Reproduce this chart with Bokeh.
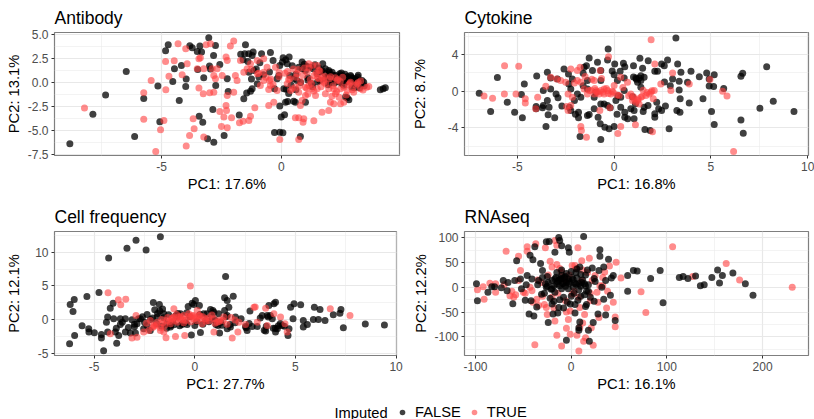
from bokeh.plotting import figure
from bokeh.layouts import column, row
from bokeh.models import FixedTicker, Range1d, Legend, LegendItem, Label
from bokeh.embed import file_html
from bokeh.resources import INLINE

FONT = "Liberation Sans"
BLACK = "#000000"
RED = "#FF4040"

# ---------- Antibody ----------
ab_false_x = [-8.82,-7.86,-7.33,-6.47,-6.12,-5.74,-5.15,-5.07,-4.83,-4.72,-4.53,-4.46,-4.26,-4.17,-3.99,-3.97,-3.82,-3.72,-3.51,-3.4,-3.33,-3.49,-3.24,-3.43,-3.28,-3.08,-2.82,-3.03,-3.0,-2.96,-2.75,-2.83,-2.86,-2.74,-2.57,-2.39,-2.26,-2.22,
  -1.5,-1.53,-1.36,-1.18,-1.6,-1.4,-1.22,-0.83,-0.46,-0.35,0.07,0.18,0.32,0.04,0.24,-0.07,-0.11,-0.18,0.35,0.51,0.65,0.86,0.86,1.0,0.72,1.32,1.72,1.83,1.97,2.11,1.69,2.43,2.6,2.74,2.88,3.01,3.18,3.36,3.43,3.26,2.94,2.74,2.53,2.18,1.97,1.83,4.12,4.24,4.33,2.67,2.81,2.74,
  -1.29,-1.57,-1.22,-1.01,-0.94,-1.15,-1.36,-0.29,0.1,0.17,0.26,0.51,0.58,1.0,-0.07,-0.01,0.13,-0.07,-0.29,0.06,0.79,-1.76,
  1.1,1.25,1.5,1.6,2.0,2.25,2.35,2.5,2.65,2.95,3.1,0.45,0.6,1.2,1.9,3.2,3.05,
  0.95,1.05,1.4,1.55,1.65,1.8,2.0,2.15,2.3,2.45,2.55,2.7,2.8,2.9,3.0,3.1,3.25,3.3,3.45,2.2,2.4,2.6,2.75,1.95,2.05,0.6,0.8,1.1,1.3,0.3,0.2,-0.5,-0.75,-1.05,-1.25,-1.45,-1.7,-0.9,0.4,1.5]
ab_false_y = [-6.41,-3.31,-1.32,1.15,-5.64,-1.67,-0.38,-4.11,3.31,3.94,0.1,1.43,-1.88,1.78,-0.42,0.35,3.83,3.62,3.24,3.8,3.17,1.36,0.49,-3.52,-4.15,-5.89,-6.24,4.67,1.71,1.4,3.87,2.82,-2.82,-0.31,1.88,-5.54,0.38,-0.94,
  3.94,3.0,3.0,3.17,2.37,2.2,2.82,3.0,3.14,2.3,2.58,2.37,2.65,2.13,1.95,1.78,0.73,0.38,0.73,0.38,0.2,2.13,1.43,1.25,1.6,1.43,1.95,1.43,1.25,1.08,1.25,0.9,0.56,0.63,0.73,0.38,0.56,0.21,0.03,-0.56,-0.49,0.28,-0.14,0.21,-0.14,0.38,-0.77,-0.66,-0.56,-1.53,-1.81,-1.6,
  -0.91,-1.71,-0.66,-0.14,0.56,1.25,1.08,-0.66,-0.66,-2.06,-1.99,-1.95,-2.06,-2.06,-2.47,-3.62,-3.38,-5.19,-5.23,-5.26,-5.64,-3.41,
  0.5,-0.1,0.9,0.2,1.1,0.75,0.35,1.0,0.85,0.45,0.1,1.75,0.85,1.6,0.55,0.75,-0.55,
  1.9,1.7,1.85,1.5,1.15,0.95,0.85,0.75,0.55,0.7,0.35,0.5,0.25,0.6,0.2,0.35,0.2,-0.3,-0.35,-0.05,0.05,-0.3,0.1,-0.25,0.45,-0.75,0.0,0.25,-0.45,-1.15,-0.7,1.1,0.8,1.4,0.35,-1.1,2.95,2.05,-0.3,0.05]
ab_true_x = [-8.21,-5.74,-5.74,-5.43,-4.9,-5.04,-5.24,-4.83,-4.82,-4.69,-4.47,-4.31,-4.14,-3.99,-3.93,-3.44,-3.38,-3.51,-3.68,-3.64,-3.83,-3.97,-3.44,-3.26,-2.99,-2.82,-3.14,-2.96,-3.24,-3.24,-2.89,-2.68,-2.82,-2.75,-2.57,-2.31,-2.29,-2.4,-2.5,-2.26,-2.13,-1.99,-2.26,-2.31,-2.47,-1.92,-1.85,-2.26,-1.99,-2.08,-1.75,-1.6,-1.36,-1.29,-1.11,-1.71,-1.29,-1.01,-0.74,-1.43,-1.57,-0.74,-0.6,-0.25,-0.74,-0.88,-0.53,-0.46,-0.53,-0.32,-0.18,0.38,0.58,0.24,0.65,1.14,1.49,1.07,1.35,1.56,1.14,1.28,1.49,1.76,1.97,2.18,2.46,2.74,3.01,3.29,3.64,2.32,2.04,2.18,2.46,2.6,1.69,1.97,1.35,0.93,0.9,0.72,0.58,-0.07,0.72,0.86,0.79,1.42,1.0,1.83,2.25,0.72,2.88,3.15,
  0.15,0.35,0.8,1.0,1.25,1.45,1.7,0.5,1.15,1.6,2.05,2.35,2.55,2.85,3.3,-0.1,-0.45,-1.0,
  0.3,0.45,0.6,0.75,0.9,1.05,1.2,1.35,1.5,1.65,1.8,2.0,2.15,2.3,2.45,2.6,2.8,2.95,3.1,3.4,3.55,1.3,1.55,1.85,2.1,2.4,2.7,0.95,0.7,0.25,-0.1,-0.35,-0.65,-0.95,-1.25,-0.5,1.1,1.75,2.25,3.2]
ab_true_y = [-2.68,-1.08,-3.83,0.21,-3.97,-4.95,-7.21,2.2,-0.77,0.66,2.26,4.04,0.8,3.52,1.95,2.47,2.58,1.43,-3.8,-4.84,-5.54,-6.65,-0.59,-1.18,-1.08,-1.01,3.94,4.04,-5.71,1.43,1.43,1.43,0.73,0.38,-3.03,-2.4,-2.93,-3.62,-4.6,-4.74,3.8,4.32,2.3,2.65,0.73,0.73,0.21,-1.36,-1.01,-3.69,-4.22,-4.04,-3.97,-3.52,-2.65,2.3,1.95,2.3,2.47,1.43,1.08,1.08,1.6,1.6,0.21,-0.31,-0.73,-0.31,-2.4,-2.06,-0.84,-0.84,-0.49,-0.14,0.91,1.95,1.78,1.08,0.73,0.38,-0.31,-0.66,-0.66,0.03,-0.66,-0.66,-0.66,-0.84,-1.01,-0.66,-0.42,0.21,-2.06,-2.23,-2.23,-2.06,-3.1,-2.93,-4.01,-3.8,-4.15,-3.69,-3.69,-5.96,-5.96,-1.88,-2.4,-1.36,-1.36,-1.18,-1.18,-1.01,0.03,-0.14,
  0.95,0.4,0.1,-0.5,-0.1,1.0,0.55,1.4,1.5,1.2,0.6,0.3,0.55,-0.1,0.15,1.05,0.35,0.9,
  0.3,-0.65,0.55,-0.35,0.75,-0.6,0.3,-0.9,0.5,-0.45,0.65,0.4,-0.35,-0.95,0.1,-0.5,-0.25,-0.75,-0.3,-0.8,-0.5,1.8,1.25,-0.15,-1.45,-1.55,-1.3,1.5,1.35,1.15,0.6,-0.2,0.55,0.95,1.35,0.2,-1.2,0.2,0.5,0.0]

# ---------- Cytokine ----------
cy_false_x = [-6.97,-6.03,-6.38,-5.52,-5.14,-4.74,-4.79,-4.64,-4.0,-4.03,-4.03,-3.66,-3.45,-3.28,-3.66,-3.45,-3.36,-3.41,-3.07,-3.52,-2.9,-3.28,-2.59,-2.36,-2.16,-2.34,-2.24,-2.93,-2.31,-2.24,-1.84,-1.84,-1.38,-1.29,-0.83,-0.72,-0.48,-0.26,0,-0.69,-1.76,-1.43,-1.29,-0.86,-0.34,-0.31,0.03,0.48,0.55,0.31,0,0.52,1.0,1.33,1.76,1.47,1.12,1.29,1.55,1.38,1.21,1.38,2.1,2.24,2.45,2.76,2.59,3.28,3.45,3.97,3.02,3.36,3.79,4.4,4.78,5.17,4.91,4.91,5.14,5.66,4.59,5.03,5.17,6.55,6.67,6.55,6.64,7.88,7.53,8.22,9.29,2.84,1.59,1.86,3.19,3.36,3.41,3.88,3.24,3.4,2.1,2.1,1.55,1.03,1.03,0.55,0.55,0.09,-0.34,-0.69,-1.03,-1.38,-1.38,-1.12,-0.69,-0.69,0.17,0.52,0.34,-1.72,-1.9,-1.55,-1.03,-0.52,0.34,0.86,1.38,
  2.2,2.45,2.65,1.75,0.95,0.7,0.15,-0.2,-0.95,-1.6,-2.05,-2.7,2.9,1.1,
  -2.0,-1.6,-0.1,0.2,1.0,1.15,1.5,2.3,2.6,-3.7,-3.0]
cy_false_y = [-0.22,1.49,-2.21,-1.2,-2.28,-2.9,-0.36,0.8,1.67,-1.67,-1.92,0.07,2.07,1.45,-1.56,-1.01,-1.74,-2.57,-2.9,-3.84,-0.72,0.25,2.43,1.88,1.34,0.8,0.25,1.34,-1.74,-2.1,-2.28,-2.9,-2.64,-2.54,-2.83,-3.55,-3.91,-4.09,-3.84,-5.25,-4.93,2.79,3.62,3.15,3.41,4.6,2.97,3.04,2.68,2.17,1.81,1.45,2.79,3.59,3.33,2.5,1.45,1.45,1.52,1.7,0.98,1.16,2.17,2.17,2.97,3.41,2.79,2.97,2.07,2.17,1.34,1.09,0.98,1.59,1.99,1.81,1.34,0.58,0.51,0.29,-0.83,-2.21,-3.62,-3.12,-4.57,1.63,1.96,2.68,-1.85,-1.09,-2.21,-4.09,-4.17,-4.28,5.8,0.14,-0.83,-1.27,-2.1,-2.28,-2.46,-2.83,-1.74,-2.1,-3.0,-2.28,-2.83,-1.01,-1.56,-1.38,-0.65,0.25,1.16,2.25,2.25,1.16,1.16,0.07,-0.65,-0.65,-0.29,2.61,-1.92,-1.38,-1.74,-1.92,0.43,
  -1.2,-2.1,-1.6,-1.55,-0.6,-3.0,-2.5,-1.8,-0.1,0.6,-1.0,-1.6,0.6,-1.35,
  -2.5,1.95,2.2,-0.5,1.55,1.3,-2.2,-1.9,1.0,-1.8,-0.3]
cy_true_x = [-6.72,-6.28,-5.66,-4.93,-5.67,-5.07,-4.59,-4.59,-3.95,-4.05,-3.53,-3.28,-2.97,-2.76,-2.5,-2.24,-1.9,-1.76,-2.45,-2.38,-2.24,-2.38,-2.16,-1.9,-1.72,-1.55,-1.29,-1.03,-0.95,-0.69,-0.52,-0.34,-0.17,-0.52,-0.78,-1.03,-1.38,0,0.34,0.69,0.26,0.86,1.03,1.21,1.38,1.64,1.9,2.07,1.81,1.12,1.29,2.02,2.41,2.1,3.02,3.88,2.93,4.95,5.6,5.83,6.17,1.91,-0.29,-0.72,-0.74,-0.22,0.34,0.19,1.1,1.98,-1.43,-1.72,-1.69,
  -1.0,-0.85,-0.4,-0.1,0.15,0.45,-1.15,-1.5,-2.05,-0.65,1.5,0.95,0.75,
  -1.2,-0.9,-0.6,-0.3,-0.05,1.0,1.25,1.45,1.7,1.95]
cy_true_y = [-0.51,-0.76,2.79,2.72,-0.29,-0.29,-0.83,-1.27,-0.65,-1.92,0.54,1.52,1.34,1.16,0.98,2.43,2.25,2.61,-1.67,-2.1,-1.56,-0.29,-0.65,1.16,0.98,0.25,0.07,1.16,0.07,0.07,0.25,0.07,-0.29,-0.29,-0.29,-0.29,-0.29,0.62,1.52,0.98,-0.47,-0.29,-0.83,-1.01,-0.65,-0.47,-0.11,0.07,-0.29,-1.2,-1.38,-0.83,0.8,2.97,1.99,0.8,0.07,1.27,0,-0.51,-6.56,5.62,3.77,2.25,-2.1,-1.81,-3.84,-4.6,-3.66,-4.42,-5.0,-3.84,-4.28,
  0.3,-0.05,0.3,0.0,-0.4,0.4,1.3,1.6,0.9,1.4,0.1,-1.0,-0.5,
  0.1,-0.15,-0.1,-0.25,-0.1,-0.6,-0.85,-0.55,-0.15,0.05]

# ---------- Cell frequency ----------
cf_false_x = [-6.22,-6.19,-5.99,-6.05,-5.97,-5.6,-5.36,-5.27,-5.26,-4.99,-4.76,-4.64,-4.64,-4.53,-4.28,-3.37,-2.92,-2.42,-1.71,1.53,-4.39,-4.33,-4.2,-4.06,-4.33,-4.03,-3.95,-3.78,-3.88,-3.7,-3.7,-3.45,-3.45,-3.2,-2.95,-3.12,-2.7,-2.87,-2.54,-2.37,-2.06,-1.76,-1.99,-1.74,-1.54,-1.87,-1.38,-1.21,-1.04,-0.71,-0.88,-0.63,-0.38,-0.33,-0.13,0.03,-0.05,0.23,-0.17,0.28,0.45,0.61,0.78,0.95,1.19,1.23,1.48,1.48,1.61,1.69,1.91,1.61,2.02,1.77,1.61,2.52,2.6,2.74,2.85,3.1,3.35,3.52,3.6,3.68,3.65,3.85,4.01,3.93,4.01,4.1,4.34,4.63,4.68,4.76,4.93,4.88,5.26,5.39,5.39,5.59,5.89,5.94,6.14,6.22,6.47,6.88,7.21,7.26,7.38,8.47,9.42,
  -2.37,-2.21,-1.55,-1.2,-0.95,-0.45,0.1,0.4,1.0,1.35,2.7,3.45,3.9,4.15,-3.0,-2.6,-1.4,-0.75,0.7,1.15,
  -3.9,-3.6,-3.3,-3.0,-2.8,-2.5,-2.2,-1.9,-1.65,-1.3,-1.1,-0.85,-0.6,-0.25,0.0,0.25,0.55,0.85,1.05,1.3,1.55,1.75,2.0,2.3,2.55,3.25,3.55,3.75,4.0,4.25,4.45,-1.6,-1.85,-2.1,-0.4,0.9]
cf_false_y = [-3.61,2.23,2.97,1.19,-2.38,-0.94,3.42,-1.39,-1.88,-1.98,4.01,-2.23,-2.77,-4.65,9.16,10.59,11.78,10.35,12.33,6.39,-0.4,0.35,1.68,2.43,-1.88,0.1,-1.88,-2.38,-3.56,0.1,-0.74,0.1,-1.88,-2.03,-2.03,-0.05,0.1,-0.64,-1.39,0.74,2.52,2.23,1.44,1.24,0.84,0.35,-0.64,-1.14,-0.79,0.84,0.35,-0.74,-0.74,1.93,2.43,2.82,2.23,2.08,-2.33,-1.93,0.84,0.84,1.49,1.09,0.84,-2.03,1.34,3.22,2.82,1.83,3.47,0.59,0.35,-1.14,-1.39,-1.04,-1.63,1.24,-1.04,-1.04,0.59,-1.73,0.59,2.08,0.35,0.1,2.57,2.33,-1.88,-1.39,-0.89,-2.38,-1.39,1.83,2.33,0.1,2.18,-0.15,-1.14,-0.74,0,1.83,0,1.49,-0.15,0.69,0.94,1.49,-1.24,-0.69,-0.84,
  -0.89,-1.63,0.25,-0.9,0.55,-0.5,-0.3,-0.7,-0.1,-0.85,-0.6,-1.6,-1.3,-0.95,-1.1,0.4,-1.3,-0.95,-0.35,-0.9,
  -1.3,-0.4,-1.2,-0.7,0.1,-0.4,0.0,-0.6,-1.0,0.7,-0.35,0.9,-0.55,0.4,-0.9,0.75,-0.15,0.35,-0.75,-0.4,0.4,-0.75,-0.5,0.1,-1.25,0.2,-1.0,0.6,-1.3,-0.6,-1.0,1.55,0.9,0.2,1.0,1.35]
cf_true_x = [-4.31,-3.8,-3.68,-3.43,-0.22,-2.92,-3.12,-2.87,-4.2,-2.54,-2.29,-2.21,-2.04,-1.87,-1.71,-1.54,-1.43,-0.96,-0.5,-1.04,-1.38,-1.13,-0.88,-0.71,-0.46,-0.3,-0.05,0.12,0.28,0.53,0.36,0.95,0.95,1.11,1.44,1.86,2.14,2.19,2.52,2.94,3.1,3.52,3.6,3.93,4.26,4.59,4.48,6.73,7.71,-0.96,-1.21,-1.5,-0.55,-0.13,0.2,
  -1.05,-0.8,-0.6,-0.2,0.05,0.7,1.25,3.0,-2.0,-1.65,
  -1.9,-1.6,-1.25,-1.1,-0.9,-0.7,-0.55,-0.35,-0.2,-0.05,0.1,0.25,0.4,0.55,0.7,0.85,1.0,1.2,1.4,1.6,1.8,2.0,-2.4,-2.1,-1.7,-1.35]
cf_true_y = [3.96,2.92,2.18,3.02,5.0,0.59,-2.77,-2.67,-2.13,-1.88,-1.63,-0.15,-0.89,-0.4,-1.63,-1.88,-2.72,-2.53,-2.38,1.58,-0.15,0.1,-0.4,0.1,-0.15,0.84,0.1,1.34,0.1,0.1,-0.64,-1.88,0.1,-0.4,0.35,-2.77,-1.88,-0.4,-0.74,1.83,-0.4,1.68,-0.89,0.84,0.35,-1.88,-0.64,1.58,0.59,-0.15,-0.64,-0.9,0.59,0.59,0.59,
  0.35,0.4,-0.1,0.45,0.3,-0.2,-0.1,1.85,-1.0,0.0,
  -0.8,-0.5,-0.3,0.2,0.75,0.4,-0.5,0.45,-0.35,0.55,-0.2,0.55,0.4,-0.25,0.25,0.65,-0.55,-0.3,-0.15,-0.7,0.3,-0.1,-0.55,-1.2,-1.25,0.3]

# ---------- RNAseq ----------
rn_false_x = [-99,-98,-87,-83,-80,-71,-66,-73,-67,-61,-57,-59,-53,-52,-46,-48,-42,-44,-39,-43,-40,-38,-32,-30,-26,-23,-24,-19,-17,-13,-12,-10,-3,-2,13,30,30,39,34,29,22,17,9,6,44,42,59,59,65,69,83,93,96,113,117,122,130,135,139,147,153,155,158,169,182,190,-24,-20,-17,-13,-10,-8,-15,-18,-10,-3,1,6,8,15,16,20,34,41,32,15,4,-1,16,8,8,9,18,19,-5,23,36,46,28,-13,-20,-26,-27,-34,-41,-31,-17,-10,-3,8,
  -14,-11,-7,-5,-2,2,4,11,-16,-9,-6,12,-21,-25,
  -35,-28,-22,-18,-12,-8,-4,0,3,7,10,14,18,-15,-10,-5,0,5,10,15,-20,-12,-6,2,10,18,25,-30,-25,-2,5,14,24,36,-8,-14,4,24,-36,-47]
rn_false_y = [7,-27,-10,1,1,14,10,-1,-7,-33,54,14,17,-3,24,-26,-27,-54,-58,65,56,82,48,34,92,93,-71,-54,71,101,95,84,80,71,103,76,63,57,41,34,39,35,41,37,24,19,24,-8,34,33,18,34,-31,20,22,18,23,3,5,20,35,9,24,29,7,-16,10,14,17,15,17,7,7,3,24,17,20,19,7,3,-8,-20,-24,-16,0,-39,-35,-34,-35,-82,-87,-70,-87,-109,-107,-71,-56,-67,-54,-41,-34,0,7,14,17,-14,-10,-3,-3,-5,
  12,18,20,10,12,16,8,10,20,8,22,15,-4,2,
  5,-12,-22,-28,-25,-20,-30,-18,-12,-26,-18,-15,-8,30,35,28,32,30,26,25,-3,3,2,1,2,5,12,20,22,8,6,7,18,14,-42,-52,-52,-28,-40,5]
rn_true_x = [-98,-91,-92,-85,-79,-79,-68,-64,-62,-55,-53,-55,-46,-46,-37,-41,-36,-34,-38,-26,-27,-22,-17,-15,-15,-20,-17,-15,-10,-5,-1,6,8,7,4,11,19,13,15,23,9,21,29,37,46,46,47,40,35,52,73,78,106,127,162,176,231,-10,-6,1,11,22,1,8,-6,-1,9,20,27,30,-20,-31,-43,-50,
  -70,-58,-48,-35,-28,-24,-14,-8,-2,3,12,17,25,33,38,-30,-18,-5,14,28,-60,-40,-12,5,-3,20,33,44,12,-25]
rn_true_y = [-5,-24,1,8,7,-10,73,-17,-8,63,34,14,73,82,88,-7,-24,-37,-116,-41,80,53,95,85,46,41,-68,-97,-119,-83,-95,-97,-129,80,44,54,59,-109,-102,-117,-82,-82,-61,-42,-60,-80,51,43,31,19,-9,-51,82,22,48,15,0,31,14,44,14,14,-14,-20,-27,-48,-41,-27,-10,3,-20,10,0,-10,
  5,-15,-12,15,-35,25,-12,18,25,-8,35,30,24,20,-8,-18,-42,-50,-55,-30,-20,-30,38,38,-65,-12,3,-30,-72,-55]

# ---------- Axis ticks ----------
x_ticks = [[-5, 0], [-5, 0, 5, 10], [-5, 0, 5, 10], [-100, 0, 100, 200]]
x_minor = [[-7.5, -2.5, 2.5], [-7.5, -2.5, 2.5, 7.5], [-2.5, 2.5, 7.5], [-50, 50, 150]]
y_ticks = [[-7.5, -5, -2.5, 0, 2.5, 5], [-4, 0, 4], [-5, 0, 5, 10], [-100, -50, 0, 50, 100]]
y_minor = [[-6.25, -3.75, -1.25, 1.25, 3.75], [-6, -2, 2, 6], [-2.5, 2.5, 7.5, 12.5], [-125, -75, -25, 25, 75]]
y_labels = [["-7.5", "-5.0", "-2.5", "0.0", "2.5", "5.0"], ["-4", "0", "4"], ["-5", "0", "5", "10"], ["-100", "-50", "0", "50", "100"]]
titles = ["Antibody", "Cytokine", "Cell frequency", "RNAseq"]
x_titles = ["PC1: 17.6%", "PC1: 16.8%", "PC1: 27.7%", "PC1: 16.1%"]
y_titles = ["PC2: 13.1%", "PC2: 8.7%", "PC2: 12.1%", "PC2: 12.2%"]
x_limits = [(-9.46, 4.92), (-7.73, 10.04), (-6.97, 10.02), (-111.5, 248)]
y_limits = [(-7.63, 5.22), (-7.0, 6.4), (-5.37, 13.1), (-138, 113)]
legend_title = "Imputed"
legend_labels = ["FALSE", "TRUE"]
y_standoff = [3, 17, 10, 2]


def panel(i, fx, fy, tx, ty, left, right, top, bottom, frame_w, frame_h, red_first=False):
    p = figure(min_border_left=left, min_border_right=right, min_border_top=top, min_border_bottom=bottom,
               frame_width=frame_w, frame_height=frame_h,
               x_range=Range1d(*x_limits[i]), y_range=Range1d(*y_limits[i]),
               toolbar_location=None, output_backend="svg", title=titles[i])
    p.title.text_font = FONT
    p.title.text_font_size = "17.5px"
    p.title.text_font_style = "normal"
    p.title.text_color = "#000000"
    p.title.offset = 0
    p.title.standoff = 10
    p.background_fill_color = "white"
    p.border_fill_color = None
    p.outline_line_color = "#7f7f7f"
    p.outline_line_width = 1.2
    for ax, ticks, minor, lab, labels, sto in ((p.xaxis, x_ticks[i], x_minor[i], x_titles[i], [str(t) for t in x_ticks[i]], 2),
                                               (p.yaxis, y_ticks[i], y_minor[i], y_titles[i], y_labels[i], y_standoff[i])):
        ax.ticker = FixedTicker(ticks=ticks, minor_ticks=minor)
        ax.major_label_overrides = dict(zip(ticks, labels))
        ax.axis_label = lab
        ax.axis_label_text_font = FONT
        ax.axis_label_text_font_size = "14.7px"
        ax.axis_label_text_font_style = "normal"
        ax.axis_label_text_color = "#000000"
        ax.axis_label_standoff = sto
        ax.major_label_text_font = FONT
        ax.major_label_text_font_size = "12px"
        ax.major_label_text_color = "#4d4d4d"
        ax.major_label_standoff = 2
        ax.axis_line_color = None
        ax.major_tick_line_color = "#333333"
        ax.major_tick_in = 0
        ax.major_tick_out = 3
        ax.minor_tick_line_color = None
    for g in (p.xgrid, p.ygrid):
        g.grid_line_color = "#e8e8e8"
        g.grid_line_width = 1.2
        g.minor_grid_line_color = "#ebebeb"
        g.minor_grid_line_width = 0.6
    p.xgrid.ticker = FixedTicker(ticks=x_ticks[i], minor_ticks=x_minor[i])
    p.ygrid.ticker = FixedTicker(ticks=y_ticks[i], minor_ticks=y_minor[i])
    layers = [(tx, ty, RED, 0.6), (fx, fy, BLACK, 0.75)] if red_first else [(fx, fy, BLACK, 0.75), (tx, ty, RED, 0.6)]
    for xs, ys, c, a in layers:
        p.scatter(xs, ys, size=7, fill_color=c, fill_alpha=a, line_color=None)
    return p


p1 = panel(0, ab_false_x, ab_false_y, ab_true_x, ab_true_y, 54, 8, 32, 44, 345, 123)
p2 = panel(1, cy_false_x, cy_false_y, cy_true_x, cy_true_y, 57, 6, 32, 44, 344, 123)
p3 = panel(2, cf_false_x, cf_false_y, cf_true_x, cf_true_y, 54, 11, 32, 37, 342, 124)
p4 = panel(3, rn_false_x, rn_false_y, rn_true_x, rn_true_y, 57, 6, 32, 37, 344, 124, red_first=True)

leg = figure(width=810, height=27, x_range=Range1d(0, 810), y_range=Range1d(0, 27),
             toolbar_location=None, output_backend="svg", min_border=0,
             outline_line_color=None, border_fill_color=None)
leg.axis.visible = False
leg.grid.visible = False
nan = float("nan")
r0 = leg.scatter([nan], [nan], size=7, fill_color=BLACK, fill_alpha=0.75, line_color=None)
r1 = leg.scatter([nan], [nan], size=7, fill_color=RED, fill_alpha=0.6, line_color=None)
legend = Legend(items=[LegendItem(label=legend_labels[0], renderers=[r0]),
                       LegendItem(label=legend_labels[1], renderers=[r1])],
                orientation="horizontal", location=(395, 1), border_line_color=None, background_fill_color=None,
                label_text_font=FONT, label_text_font_size="14.7px", label_text_color="#000000",
                glyph_width=14, glyph_height=14, spacing=6, margin=0, padding=0, label_standoff=6)
leg.add_layout(legend, "center")
leg.add_layout(Label(x=334, y=1, x_units="screen", y_units="screen", text=legend_title,
                     text_font=FONT, text_font_size="14.7px", text_color="#000000", text_baseline="bottom"))

page = column(row(p1, p2), row(p3, p4), leg, spacing=0)
open("out.html", "w").write(file_html(page, INLINE))
